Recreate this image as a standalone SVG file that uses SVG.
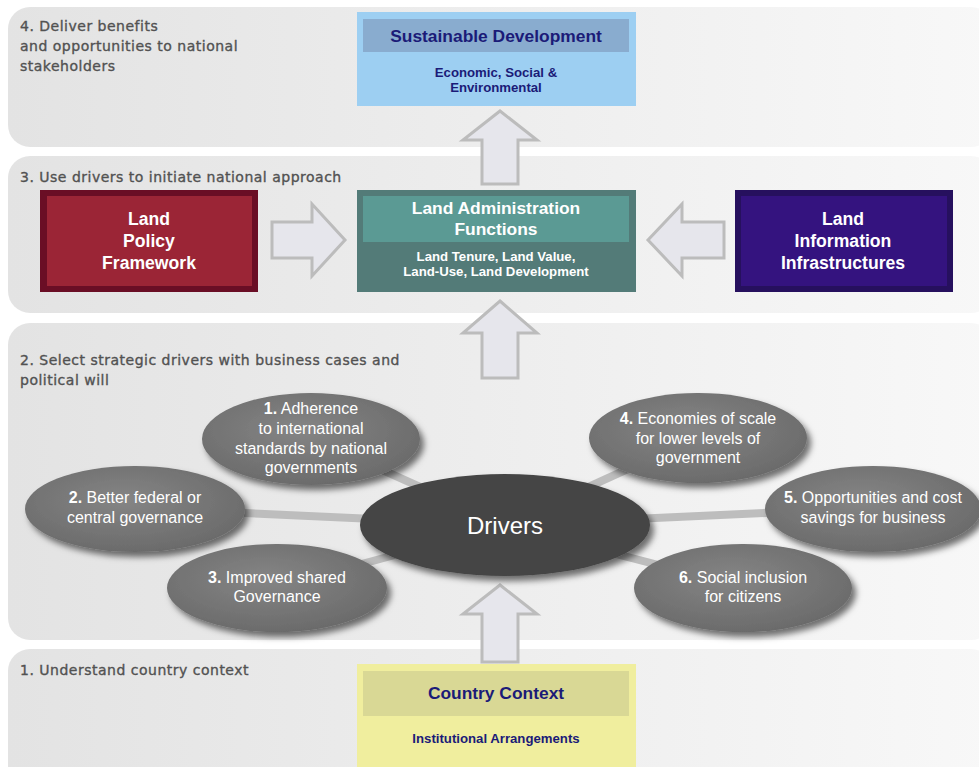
<svg xmlns="http://www.w3.org/2000/svg" width="979" height="767" viewBox="0 0 979 767">
<defs>
<linearGradient id="band" x1="0" y1="0" x2="1" y2="0">
<stop offset="0" stop-color="#e3e3e3"/>
<stop offset="1" stop-color="#f8f8f8"/>
</linearGradient>
<radialGradient id="ell" cx="0.45" cy="0.4" r="0.65">
<stop offset="0" stop-color="#858585"/>
<stop offset="1" stop-color="#696969"/>
</radialGradient>
<filter id="sh" x="-20%" y="-20%" width="150%" height="160%">
<feDropShadow dx="4" dy="5" stdDeviation="3" flood-color="#000" flood-opacity="0.55"/>
</filter>
<style>
.band{fill:url(#band)}
.blabel{font-family:"DejaVu Sans","Noto Sans",sans-serif;font-size:14px;letter-spacing:0.5px;fill:#525252;stroke:#525252;stroke-width:0.35}
.arrow{fill:#e6e6ec;stroke:#bcbcbc;stroke-width:3}
.conn{stroke:#bdbdbd;stroke-width:8}
.ell{fill:url(#ell);filter:url(#sh)}
.et{font-family:"Liberation Sans",Arial,sans-serif;font-size:16px;fill:#fff;text-anchor:middle}
.et tspan.n{font-weight:bold}
.t{font-family:"Liberation Sans",Arial,sans-serif;font-weight:bold;text-anchor:middle}
.navy{fill:#1b1b78}
.w{fill:#fff}
</style>
</defs>

<g id="bands">
<rect class="band" x="8" y="7" width="985" height="140" rx="22"/>
<rect class="band" x="8" y="156" width="985" height="157" rx="22"/>
<rect class="band" x="8" y="323" width="985" height="317" rx="22"/>
<rect class="band" x="8" y="649" width="985" height="150" rx="22"/>
<text class="blabel" x="20" y="31">4. Deliver benefits</text>
<text class="blabel" x="20" y="51">and opportunities to national</text>
<text class="blabel" x="20" y="71">stakeholders</text>
<text class="blabel" x="20" y="182">3. Use drivers to initiate national approach</text>
<text class="blabel" x="20" y="365">2. Select strategic drivers with business cases and</text>
<text class="blabel" x="20" y="385">political will</text>
<text class="blabel" x="20" y="675">1. Understand country context</text>
</g>

<g id="connectors">
<line class="conn" x1="505" y1="525" x2="311" y2="438"/>
<line class="conn" x1="505" y1="525" x2="135" y2="508"/>
<line class="conn" x1="505" y1="525" x2="277" y2="587"/>
<line class="conn" x1="505" y1="525" x2="698" y2="437"/>
<line class="conn" x1="505" y1="525" x2="873" y2="508"/>
<line class="conn" x1="505" y1="525" x2="743" y2="587"/>
<polygon class="arrow" points="500,111 537,140 518,140 518,184 482,184 482,140 463,140"/>
<polygon class="arrow" points="500,301 537,333 518,333 518,378 482,378 482,333 463,333"/>
<polygon class="arrow" points="500,585 537,614 518,614 518,662 482,662 482,614 463,614"/>
<polygon class="arrow" points="272,222 312,222 312,204 345,240 312,276 312,258 272,258"/>
<polygon class="arrow" points="724,222 682,222 682,204 648,240 682,276 682,258 724,258"/>
</g>

<g id="sustainable">
<rect x="357" y="12" width="279" height="94" fill="#9dcff2"/>
<rect x="363" y="19" width="266" height="33" fill="#89accf"/>
<text class="t navy" x="496" y="42" font-size="17.4">Sustainable Development</text>
<text class="t navy" x="496" y="77" font-size="13.2">Economic, Social &amp;</text>
<text class="t navy" x="496" y="92" font-size="13.2">Environmental</text>
</g>

<g id="landpolicy">
<rect x="40" y="190" width="218" height="102" fill="#6a0e25"/>
<rect x="47" y="196" width="205" height="90" fill="#9b2536"/>
<text class="t w" x="149" y="225" font-size="17.6">Land</text>
<text class="t w" x="149" y="247" font-size="17.6">Policy</text>
<text class="t w" x="149" y="269" font-size="17.6">Framework</text>
</g>

<g id="landadmin">
<rect x="357" y="190" width="279" height="102" fill="#537b78"/>
<rect x="363" y="196" width="266" height="46" fill="#5b9a94"/>
<text class="t w" x="496" y="214" font-size="17.4">Land Administration</text>
<text class="t w" x="496" y="235" font-size="17.4">Functions</text>
<text class="t w" x="496" y="261" font-size="13.2">Land Tenure, Land Value,</text>
<text class="t w" x="496" y="276" font-size="13.2">Land-Use, Land Development</text>
</g>

<g id="landinfo">
<rect x="735" y="190" width="218" height="102" fill="#26105e"/>
<rect x="741" y="196" width="206" height="90" fill="#34137f"/>
<text class="t w" x="843" y="225" font-size="17.6">Land</text>
<text class="t w" x="843" y="247" font-size="17.6">Information</text>
<text class="t w" x="843" y="269" font-size="17.6">Infrastructures</text>
</g>

<g id="driver1">
<ellipse class="ell" cx="311" cy="439" rx="109" ry="46"/>
<text class="et" x="311" y="414"><tspan class="n">1.</tspan> Adherence</text>
<text class="et" x="311" y="434">to international</text>
<text class="et" x="311" y="454">standards by national</text>
<text class="et" x="311" y="473">governments</text>
</g>
<g id="driver2">
<ellipse class="ell" cx="135" cy="509" rx="110" ry="43"/>
<text class="et" x="135" y="503"><tspan class="n">2.</tspan> Better federal or</text>
<text class="et" x="135" y="523">central governance</text>
</g>
<g id="driver3">
<ellipse class="ell" cx="277" cy="588" rx="110" ry="44"/>
<text class="et" x="277" y="583"><tspan class="n">3.</tspan> Improved shared</text>
<text class="et" x="277" y="602">Governance</text>
</g>
<g id="driver4">
<ellipse class="ell" cx="698" cy="438" rx="109" ry="45"/>
<text class="et" x="698" y="424"><tspan class="n">4.</tspan> Economies of scale</text>
<text class="et" x="698" y="444">for lower levels of</text>
<text class="et" x="698" y="463">government</text>
</g>
<g id="driver5">
<ellipse class="ell" cx="873" cy="509" rx="108" ry="43"/>
<text class="et" x="873" y="503"><tspan class="n">5.</tspan> Opportunities and cost</text>
<text class="et" x="873" y="523">savings for business</text>
</g>
<g id="driver6">
<ellipse class="ell" cx="743" cy="588" rx="109" ry="44"/>
<text class="et" x="743" y="583"><tspan class="n">6.</tspan> Social inclusion</text>
<text class="et" x="743" y="602">for citizens</text>
</g>
<g id="drivers">
<ellipse cx="505" cy="525" rx="145" ry="51" fill="#444" filter="url(#sh)"/>
<text x="505" y="534" font-family="'Liberation Sans',Arial,sans-serif" font-size="24" fill="#fff" text-anchor="middle">Drivers</text>
</g>

<g id="country">
<rect x="357" y="664" width="279" height="110" fill="#f0ee9e"/>
<rect x="363" y="671" width="266" height="45" fill="#d9d895"/>
<text class="t navy" x="496" y="699" font-size="17.4">Country Context</text>
<text class="t navy" x="496" y="743" font-size="13.2">Institutional Arrangements</text>
</g>
</svg>
